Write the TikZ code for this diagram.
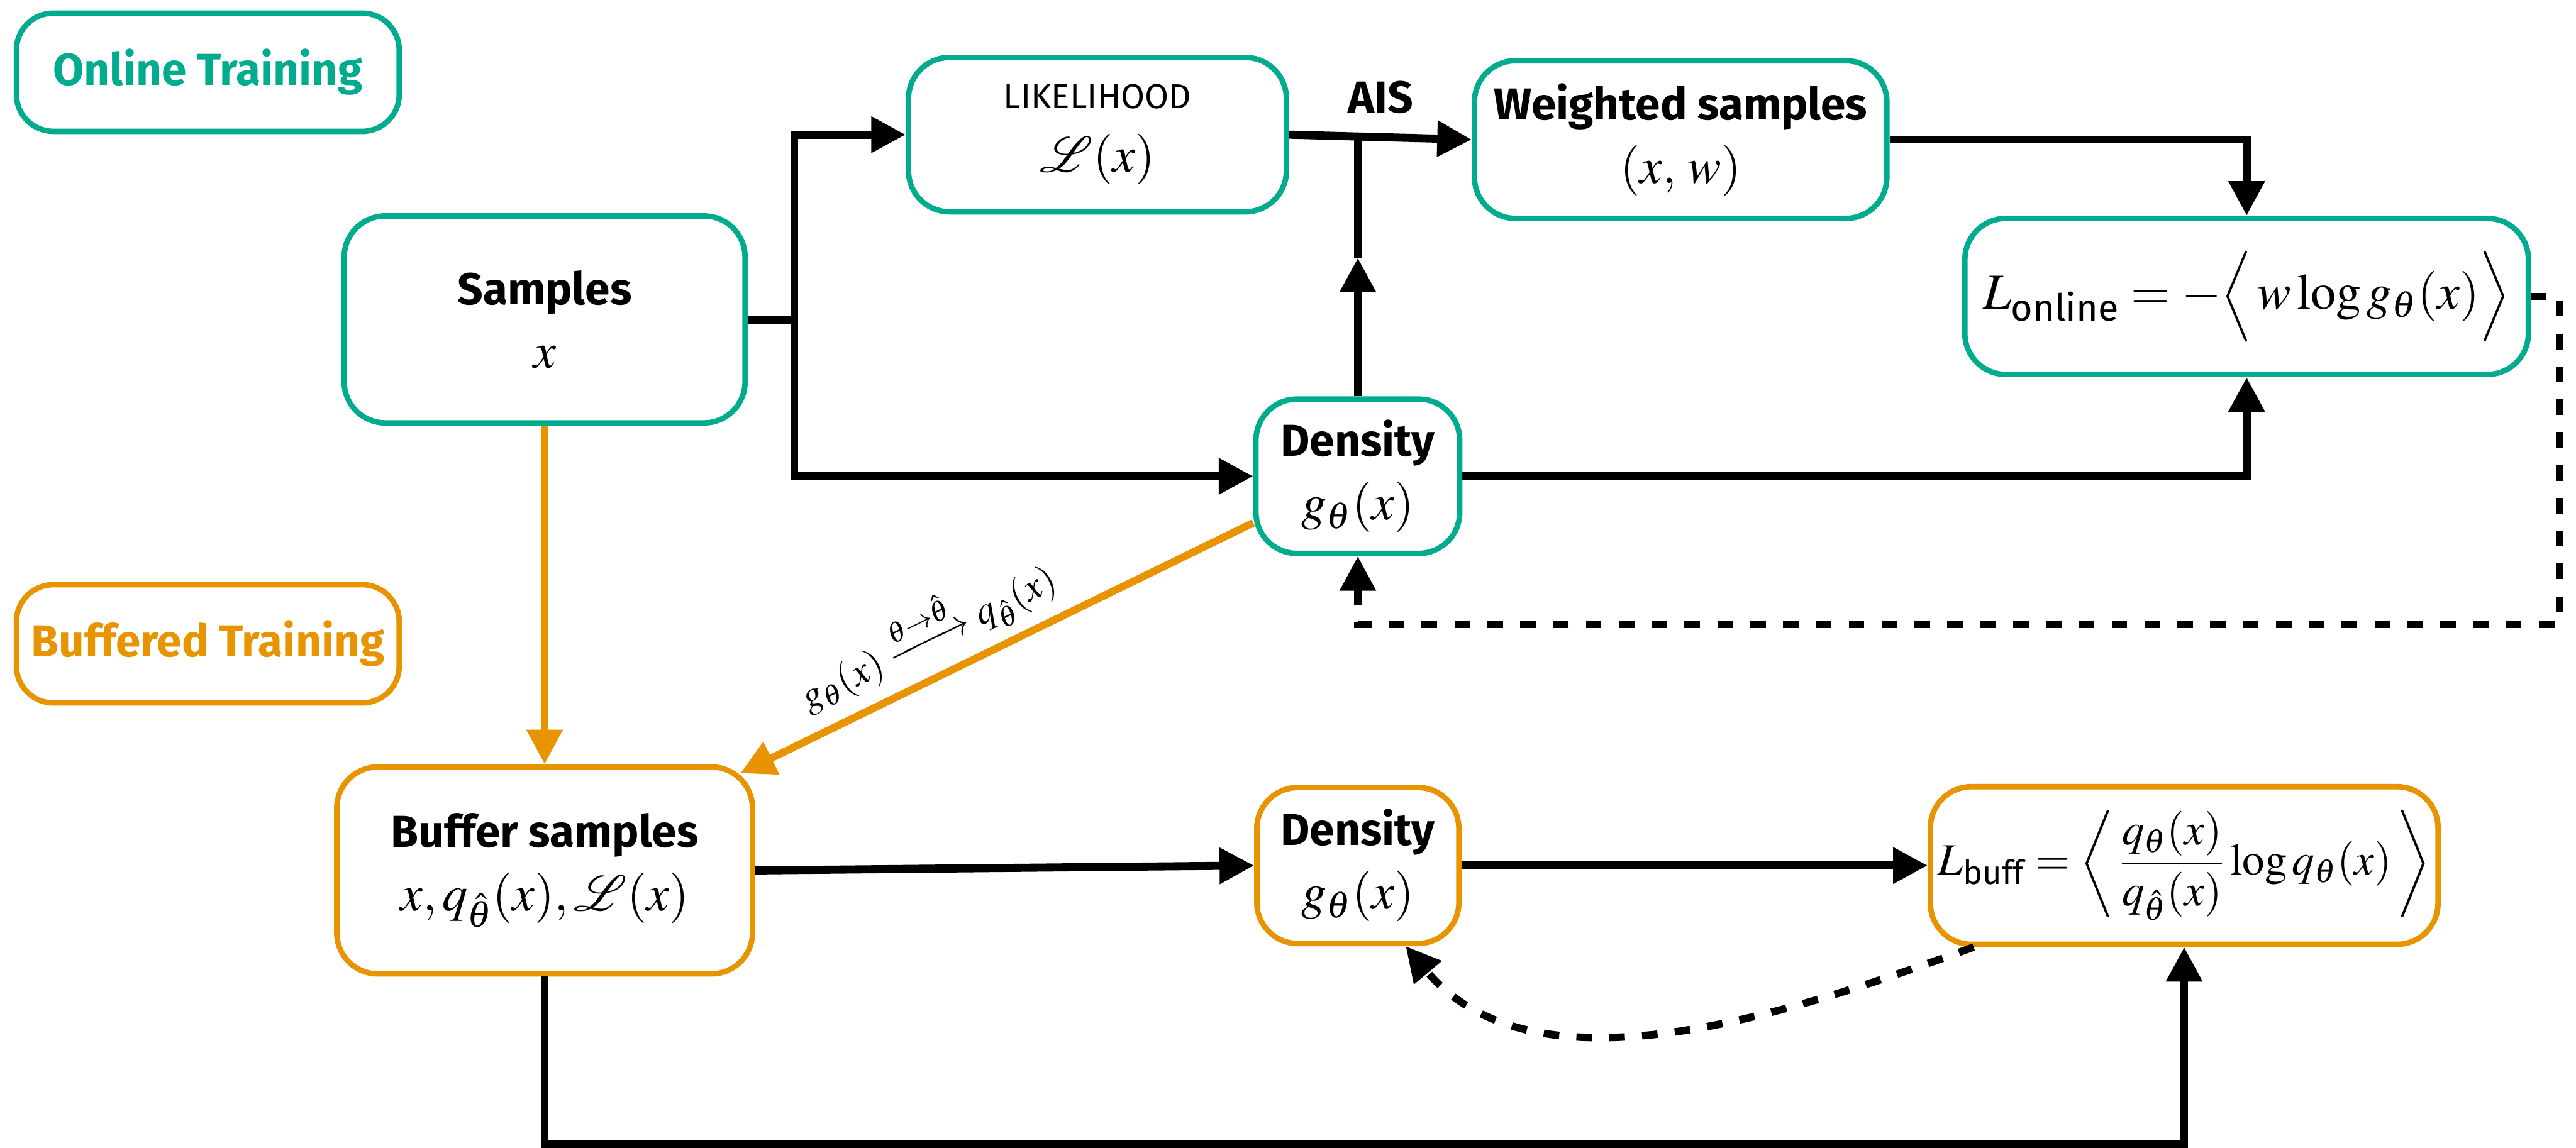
\documentclass[tikz,border=0pt]{standalone}
\usepackage{amsmath}
\usepackage{mathptmx}
\usepackage{mathrsfs}
\usepackage[no-math]{fontspec}
\setmainfont{Fira Sans}
\usepackage{xcolor}
\usetikzlibrary{arrows.meta,calc}
\definecolor{onl}{HTML}{00AB8E}
\definecolor{bufc}{HTML}{E89300}
\newcommand{\hd}[1]{{\fontsize{15.5}{22}\selectfont\bfseries #1}}

\begin{document}
\begin{tikzpicture}[
    box/.style={rectangle, draw, line width=1.9pt, rounded corners=0.5cm, align=center,
                font=\fontsize{17.5}{22}\selectfont, inner sep=2pt},
    onbox/.style={box, draw=onl},
    bfbox/.style={box, draw=bufc},
    tag/.style={rectangle, draw, line width=1.9pt, rounded corners=0.45cm,
                minimum width=4.66cm, minimum height=1.44cm,
                font=\fontsize{15.5}{18}\selectfont\bfseries},
    conn/.style={line width=2.8pt},
    oconn/.style={line width=2.6pt, draw=bufc},
    fb/.style={line width=2.6pt, dash pattern=on 0.19cm off 0.21cm},
    >={Triangle[length=0.42cm,width=0.42cm]}
]
\useasboundingbox (0,0) rectangle (31.36,-13.98);

% --- Legend tags ---
\node[tag, draw=onl, text=onl]   (onltag) at (2.53,-0.88) {Online Training};
\node[tag, draw=bufc, text=bufc] (buftag) at (2.53,-7.84) {Buffered Training};

% --- Online row ---
\node[onbox, minimum width=4.88cm, minimum height=2.52cm] (samp)  at (6.63,-3.89)  {\hd{Samples}\\$x$};
\node[onbox, minimum width=4.60cm, minimum height=1.88cm] (lik)   at (13.36,-1.64) {{\fontsize{12}{20}\selectfont LIKELIHOOD}\\$\mathscr{L}(x)$};
\node[onbox, minimum width=5.02cm, minimum height=1.92cm] (wsamp) at (20.46,-1.70) {\hd{Weighted samples}\\$(x,\,w)$};
\node[onbox, minimum width=6.86cm, minimum height=1.90cm] (lonl)  at (27.35,-3.61) {$L_{\text{online}} = -\Big\langle\, w\log g_\theta(x)\Big\rangle$};
\node[onbox, minimum width=2.48cm, minimum height=1.88cm] (dgrn)  at (16.53,-5.80) {\hd{Density}\\$g_\theta(x)$};

% --- Buffered row ---
\node[bfbox, minimum width=5.06cm, minimum height=2.52cm] (buf)  at (6.63,-10.60)  {\hd{Buffer samples}\\$x, q_{\hat\theta}(x), \mathscr{L}(x)$};
\node[bfbox, minimum width=2.46cm, minimum height=1.90cm] (dorg) at (16.53,-10.54) {\hd{Density}\\$g_\theta(x)$};
\node[bfbox, minimum width=6.18cm, minimum height=1.92cm, font=\fontsize{15.5}{20}\selectfont] (lbuf) at (26.59,-10.54)
  {$L_{\text{buff}} = \left\langle\, \dfrac{q_\theta(x)}{q_{\hat\theta}(x)} \log q_\theta(x) \,\right\rangle$};

% --- Samples split ---
\coordinate (split) at (9.67,-3.89);
\draw[conn] (samp.east) -- (split);
\draw[conn,->] (split) |- (lik.west);
\draw[conn,->] (split) |- (dgrn.west);

% --- AIS ---
\draw[conn,->] (lik.east) -- node[above=0.12cm, font=\fontsize{15.5}{18}\selectfont\bfseries] (ais) {AIS} (wsamp.west);
\coordinate (join) at (dgrn.north |- lik.east);
\coordinate (aistip) at (16.53,-3.14);
\draw[conn,->] (dgrn.north) -- (aistip);
\draw[conn] (aistip) -- (join);

% --- to L_online ---
\draw[conn,->] (wsamp.east) -| (lonl.north);
\draw[conn,->] (dgrn.east) -| (lonl.south);

% --- online feedback ---
\coordinate (fbk) at (31.16,-7.60);
\draw[fb,->] (lonl.east) -| (fbk) -| (dgrn.south);

% --- orange links ---
\draw[oconn,->] (samp.south) -- (buf.north);
\draw[oconn,->] (dgrn.204) -- node[sloped, above, pos=0.6, font=\fontsize{13.5}{15}\selectfont, text=black]
  {$g_\theta(x) \xrightarrow{\theta\to\hat\theta} q_{\hat\theta}(x)$} ($(buf.north east)+(-0.18,-0.11)$);

% --- Buffered row edges ---
\draw[conn,->] (buf.east) -- (dorg.west);
\draw[conn,->] (dorg.east) -- (lbuf.west);
\coordinate (bot) at (0,-13.93);
\draw[conn,->] (buf.south) -- (buf.south |- bot) -| (lbuf.south);
\draw[fb,->] ($(lbuf.south west)+(0.56,0)$) to[out=-160,in=-50,looseness=0.9] ($(dorg.south east)+(-0.68,0)$);
\end{tikzpicture}
\end{document}
